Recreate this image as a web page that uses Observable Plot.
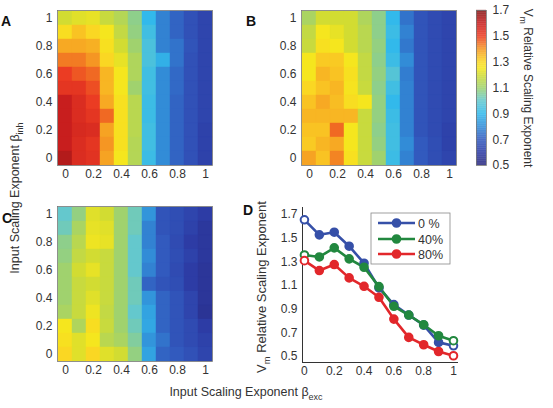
<!DOCTYPE html>
<html><head><meta charset="utf-8">
<script src="https://cdn.jsdelivr.net/npm/d3@7"></script>
<script src="https://cdn.jsdelivr.net/npm/@observablehq/plot@0.6"></script>
<style>
html,body{margin:0;padding:0;background:#fff;}
#root{position:relative;width:553px;height:408px;overflow:hidden;font-family:"Liberation Sans",Arial,sans-serif;background:#fff;}
#root > svg{position:absolute;}
</style></head><body><div id="root"></div>
<script>
// ---------- data ----------
const betaExc = [0, 0.1, 0.2, 0.3, 0.4, 0.5, 0.6, 0.7, 0.8, 0.9, 1];
const betaInhRows = [1, 0.9, 0.8, 0.7, 0.6, 0.5, 0.4, 0.3, 0.2, 0.1, 0]; // top -> bottom
const tickVals = [0, 0.2, 0.4, 0.6, 0.8, 1];
const colorTicks = [0.5, 0.7, 0.9, 1.1, 1.3, 1.5, 1.7];

// panel A (rows: beta_inh 1 -> 0, cols: beta_exc 0 -> 1)
const heatA = [
  [1.20,1.22,1.23,1.18,1.14,1.07,0.90,0.78,0.72,0.67,0.63],
  [1.28,1.33,1.30,1.25,1.17,1.08,0.93,0.78,0.72,0.67,0.63],
  [1.37,1.37,1.36,1.27,1.20,1.10,0.95,0.78,0.75,0.68,0.63],
  [1.43,1.43,1.40,1.30,1.23,1.13,0.95,0.88,0.75,0.67,0.63],
  [1.50,1.47,1.45,1.35,1.25,1.13,0.93,0.80,0.73,0.67,0.63],
  [1.52,1.52,1.48,1.35,1.25,1.10,0.93,0.80,0.73,0.67,0.63],
  [1.60,1.55,1.50,1.37,1.27,1.15,0.92,0.80,0.72,0.67,0.63],
  [1.60,1.55,1.52,1.45,1.27,1.15,0.92,0.80,0.72,0.67,0.63],
  [1.60,1.56,1.55,1.38,1.27,1.15,0.93,0.80,0.72,0.67,0.62],
  [1.60,1.55,1.52,1.40,1.27,1.14,0.93,0.80,0.72,0.67,0.62],
  [1.63,1.55,1.53,1.38,1.25,1.14,0.92,0.80,0.72,0.67,0.62]
];
// panel B
const heatB = [
  [1.12,1.20,1.20,1.20,1.13,1.07,0.90,0.75,0.68,0.65,0.63],
  [1.17,1.25,1.23,1.20,1.15,1.07,0.92,0.78,0.68,0.65,0.63],
  [1.18,1.27,1.25,1.20,1.15,1.08,0.90,0.76,0.68,0.65,0.63],
  [1.25,1.32,1.32,1.25,1.17,1.07,0.92,0.80,0.68,0.65,0.63],
  [1.25,1.35,1.33,1.27,1.17,1.08,0.97,0.77,0.68,0.65,0.63],
  [1.30,1.33,1.35,1.26,1.18,1.07,0.93,0.78,0.68,0.65,0.63],
  [1.33,1.37,1.34,1.28,1.25,1.08,0.90,0.78,0.68,0.65,0.63],
  [1.35,1.35,1.35,1.35,1.18,1.08,0.92,0.78,0.68,0.65,0.63],
  [1.33,1.33,1.45,1.25,1.18,1.07,0.93,0.78,0.68,0.65,0.62],
  [1.32,1.35,1.37,1.25,1.18,1.08,0.93,0.80,0.70,0.66,0.62],
  [1.38,1.33,1.42,1.27,1.18,1.10,0.92,0.78,0.70,0.66,0.63]
];
// panel C
const heatC = [
  [1.00,1.08,1.22,1.20,1.10,1.02,0.82,0.68,0.66,0.63,0.60],
  [1.02,1.12,1.23,1.22,1.10,1.02,0.78,0.68,0.66,0.62,0.58],
  [1.07,1.15,1.24,1.23,1.10,1.00,0.78,0.70,0.65,0.60,0.58],
  [1.08,1.17,1.20,1.18,1.10,1.00,0.80,0.70,0.66,0.62,0.58],
  [1.10,1.20,1.23,1.18,1.10,1.00,0.78,0.70,0.65,0.60,0.57],
  [1.10,1.18,1.20,1.18,1.10,1.02,0.72,0.68,0.66,0.60,0.57],
  [1.10,1.18,1.22,1.18,1.10,1.02,0.82,0.72,0.68,0.63,0.57],
  [1.12,1.18,1.24,1.17,1.10,1.00,0.85,0.72,0.68,0.63,0.56],
  [1.25,1.13,1.28,1.18,1.10,1.02,0.86,0.72,0.68,0.65,0.60],
  [1.27,1.22,1.25,1.15,1.12,1.05,0.82,0.75,0.68,0.65,0.62],
  [1.30,1.22,1.30,1.22,1.20,1.08,0.85,0.72,0.70,0.67,0.63]
];

// panel D
const seriesNames = ["0 %", "40%", "80%"];
const seriesColors = ["#3650a8", "#22883f", "#e2272b"];
const line0  = [1.655,1.528,1.550,1.432,1.288,1.079,0.938,0.850,0.765,0.619,0.590];
const line40 = [1.358,1.341,1.418,1.325,1.254,1.090,0.924,0.850,0.768,0.675,0.633];
const line80 = [1.310,1.226,1.277,1.164,1.093,1.000,0.816,0.661,0.599,0.542,0.506];

// jet-like palette as it appears in the figure
const paletteValues = [0.5, 0.6, 0.7, 0.8, 0.9, 1.0, 1.1, 1.2, 1.25, 1.3, 1.4, 1.5, 1.6, 1.7];
const paletteColors = ["#28287d", "#2d3ca5", "#325abe", "#328cd7", "#32b9eb", "#64c8cd", "#a0d26e",
                       "#d2dc32", "#f5e61e", "#fad723", "#f59623", "#eb3c23", "#c81e1e", "#821414"];

// ---------- helpers ----------
const FONT = '"Liberation Sans", Arial, sans-serif';
const paletteScale = d3.scaleLinear().domain(paletteValues).range(paletteColors).interpolate(d3.interpolateRgb).clamp(true);
const colorOpts = {type: "linear", domain: [0.5, 1.7], interpolate: t => paletteScale(0.5 + 1.2 * t), clamp: true};
const baseStyle = {fontSize: "12px", fontFamily: FONT, color: "#333", background: "transparent", overflow: "visible"};

function toCells(m) {
  return m.flatMap((row, i) => row.map((v, j) => ({bx: betaExc[j], bi: betaInhRows[i], v})));
}

function heatmap(m) {
  return Plot.plot({
    width: 190, height: 181, marginLeft: 32, marginRight: 3, marginTop: 3, marginBottom: 23,
    style: baseStyle,
    x: {type: "band", domain: betaExc, padding: 0, ticks: tickVals, tickFormat: d => String(d), tickSize: 0, tickPadding: 4, label: null},
    y: {type: "band", domain: betaInhRows, padding: 0, ticks: tickVals, tickFormat: d => String(d), tickSize: 0, tickPadding: 5, label: null},
    color: colorOpts,
    marks: [
      Plot.cell(toCells(m), {x: "bx", y: "bi", fill: "v", stroke: "v", strokeWidth: 0.4}),
      Plot.frame({stroke: "#777", strokeWidth: 0.8})
    ]
  });
}

function place(svg, left, top) {
  svg.style.position = "absolute";
  svg.style.left = left + "px";
  svg.style.top = top + "px";
  root.appendChild(svg);
}

const root = document.getElementById("root");

// ---------- heatmaps ----------
place(heatmap(heatA), 25, 7);
place(heatmap(heatB), 269, 7);
place(heatmap(heatC), 25, 203);

// ---------- colorbar ----------
const colorbarSteps = d3.range(0.5, 1.7, 0.005);
place(Plot.plot({
  width: 44, height: 181, marginLeft: 0, marginRight: 34, marginTop: 3, marginBottom: 23,
  style: baseStyle,
  x: {domain: [0, 1], axis: null},
  y: {domain: [0.5, 1.7], ticks: colorTicks, tickFormat: d => d.toFixed(1), tickSize: 0, tickPadding: 6, axis: "right", label: null},
  color: colorOpts,
  marks: [
    Plot.rect(colorbarSteps, {x1: 0, x2: 1, y1: d => d, y2: d => d + 0.006, fill: d => d + 0.0025}),
    Plot.frame({stroke: "#777", strokeWidth: 0.8})
  ]
}), 476, 7);

// ---------- panel D ----------
const lineData = [line0, line40, line80].flatMap((arr, k) =>
  arr.map((v, i) => ({x: betaExc[i], y: v, s: seriesNames[k]})));
place(Plot.plot({
  width: 190, height: 181, marginLeft: 32, marginRight: 3, marginTop: 3, marginBottom: 23,
  style: baseStyle,
  x: {domain: [-0.013, 1.027], ticks: tickVals, tickFormat: d => String(d), tickSize: 0, tickPadding: 4, line: true, label: null},
  y: {domain: [0.449, 1.759], ticks: colorTicks, tickFormat: d => d.toFixed(1), tickSize: 0, tickPadding: 5, line: true, label: null},
  color: {domain: seriesNames, range: seriesColors},
  marks: [
    Plot.line(lineData, {x: "x", y: "y", z: "s", stroke: "s", strokeWidth: 2.6}),
    Plot.dot(lineData, {x: "x", y: "y", stroke: "s", strokeWidth: 2,
      fill: d => (d.x === 0 || d.x === 1) ? "white" : seriesColors[seriesNames.indexOf(d.s)], r: 3.8})
  ]
}), 270, 204);

// ---------- overlay text & legend ----------
const ov = d3.select(root).append("svg")
  .attr("width", 553).attr("height", 408)
  .style("position", "absolute").style("left", "0px").style("top", "0px")
  .style("pointer-events", "none")
  .style("font-family", FONT);

const panelLabels = [["A", 6, 26], ["B", 251, 26], ["C", 7, 223], ["D", 248, 215]];
ov.selectAll("text.pl").data(panelLabels).join("text").attr("class", "pl")
  .attr("x", d => d[1]).attr("y", d => d[2]).attr("text-anchor", "middle")
  .attr("font-size", 14).attr("font-weight", "bold").attr("fill", "#111").text(d => d[0]);

function labelWithSub(g, main, sub, after, size) {
  g.append("tspan").text(main);
  g.append("tspan").attr("font-size", size * 0.72).attr("dy", size * 0.3).text(sub);
  if (after) g.append("tspan").attr("dy", -size * 0.3).text(after);
}

// shared y label of heatmaps
let t = ov.append("text").attr("transform", "translate(19,198) rotate(-90)")
  .attr("text-anchor", "middle").attr("font-size", 12.5).attr("fill", "#333");
labelWithSub(t, "Input Scaling Exponent \u03b2", "inh", null, 12.5);

// shared x label
t = ov.append("text").attr("x", 246).attr("y", 396)
  .attr("text-anchor", "middle").attr("font-size", 12.5).attr("fill", "#333");
labelWithSub(t, "Input Scaling Exponent \u03b2", "exc", null, 12.5);

// colorbar label (reads top -> bottom)
t = ov.append("text").attr("transform", "translate(524,88) rotate(90)")
  .attr("text-anchor", "middle").attr("font-size", 12).attr("fill", "#333");
labelWithSub(t, "V", "m", " Relative Scaling Exponent", 12);

// panel D y label
t = ov.append("text").attr("transform", "translate(266,287) rotate(-90)")
  .attr("text-anchor", "middle").attr("font-size", 13).attr("fill", "#333");
labelWithSub(t, "V", "m", " Relative Scaling Exponent", 13);

// legend for D
const lg = ov.append("g").attr("transform", "translate(371,213)");
lg.append("rect").attr("width", 79).attr("height", 51).attr("fill", "white").attr("stroke", "#888").attr("stroke-width", 0.8);
const rows = [10, 26, 41];
seriesNames.forEach((name, k) => {
  const r = lg.append("g").attr("transform", `translate(0,${rows[k]})`);
  r.append("line").attr("x1", 7).attr("x2", 44).attr("stroke", seriesColors[k]).attr("stroke-width", 2.6);
  r.append("circle").attr("cx", 25.5).attr("r", 3.8).attr("fill", seriesColors[k]).attr("stroke", seriesColors[k]).attr("stroke-width", 2);
  r.append("text").attr("x", 47).attr("dy", "0.36em").attr("font-size", 12.5).attr("fill", "#333").text(name);
});
</script></body></html>
